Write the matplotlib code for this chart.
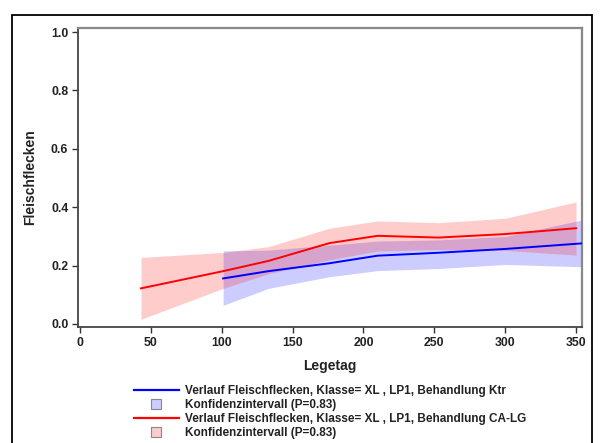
import matplotlib
matplotlib.use("Agg")
import matplotlib.pyplot as plt
from matplotlib.lines import Line2D
from matplotlib.patches import Rectangle

plt.rcParams['font.family'] = ['Liberation Sans', 'DejaVu Sans']
plt.rcParams['font.weight'] = 'bold'

# Data
x_ktr = [101, 133, 176, 210, 253, 300, 354]
y_ktr = [0.156, 0.181, 0.208, 0.234, 0.244, 0.257, 0.276]
up_ktr = [0.250, 0.253, 0.270, 0.284, 0.288, 0.300, 0.356]
lo_ktr = [0.064, 0.122, 0.162, 0.183, 0.190, 0.204, 0.196]

x_ca = [43, 101, 133, 176, 210, 253, 300, 350]
y_ca = [0.122, 0.181, 0.216, 0.277, 0.302, 0.296, 0.308, 0.328]
up_ca = [0.228, 0.245, 0.265, 0.328, 0.353, 0.347, 0.362, 0.418]
lo_ca = [0.016, 0.122, 0.172, 0.220, 0.250, 0.255, 0.252, 0.236]

x_ticks = [0, 50, 100, 150, 200, 250, 300, 350]
y_ticks = [0.0, 0.2, 0.4, 0.6, 0.8, 1.0]

labels = ["Verlauf Fleischflecken, Klasse= XL , LP1, Behandlung Ktr",
          "Konfidenzintervall (P=0.83)",
          "Verlauf Fleischflecken, Klasse= XL , LP1, Behandlung CA-LG",
          "Konfidenzintervall (P=0.83)"]

W, H = 601, 443
fig = plt.figure(figsize=(W / 100, H / 100), dpi=100)
ax = fig.add_axes([78 / W, 1 - 327 / H, (582 - 78) / W, (327 - 28) / H])

ax.fill_between(x_ktr, lo_ktr, up_ktr, color=(0.8, 0.8, 1.0), lw=0, zorder=1)
ax.fill_between(x_ca, lo_ca, up_ca, color='#ff0000', alpha=0.2, lw=0, zorder=2)
ax.plot(x_ktr, y_ktr, color='#0000ff', lw=1.4, zorder=3)
ax.plot(x_ca, y_ca, color='#ff0000', lw=1.4, zorder=4)

ax.set_xlim(-1.4, 354.2)
ax.set_ylim(-0.0103, 1.0137)
ax.set_xticks(x_ticks)
ax.set_yticks(y_ticks)
ax.set_xticklabels([str(v) for v in x_ticks])
ax.set_yticklabels([f"{v:.1f}" for v in y_ticks])
ax.tick_params(axis='both', direction='out', length=4, width=1.0, color='#333333',
               labelsize=8.8, pad=3, labelcolor='#222222')
for side in ['left', 'bottom']:
    ax.spines[side].set_color('#444444')
    ax.spines[side].set_linewidth(1.3)
for side in ['top', 'right']:
    ax.spines[side].set_color('#888888')
    ax.spines[side].set_linewidth(1.6)

fig.text(330 / W, 1 - 366 / H, "Legetag", ha='center', va='center',
         fontsize=10, fontweight='bold', color='#222222')
fig.text(30 / W, 1 - 177 / H, "Fleischflecken", ha='center', va='center',
         rotation=90, fontsize=10, fontweight='bold', color='#222222')

handles = [
    Line2D([], [], color='#0000ff', lw=1.6),
    Line2D([], [], ls='none', marker='s', markersize=6.5, markerfacecolor=(0.8, 0.8, 1.0),
           markeredgecolor='#888888', markeredgewidth=0.8),
    Line2D([], [], color='#ff0000', lw=1.6),
    Line2D([], [], ls='none', marker='s', markersize=6.5, markerfacecolor=(1.0, 0.8, 0.8),
           markeredgecolor='#888888', markeredgewidth=0.8),
]
fs = 8.5
leg = fig.legend(handles, labels, loc='upper left',
                 bbox_to_anchor=(134 / W, 1 - 385 / H), frameon=False,
                 fontsize=fs, handlelength=3.8, handletextpad=0.5,
                 labelspacing=0.165, borderpad=0, borderaxespad=0)
for t in leg.get_texts():
    t.set_fontweight('bold')
    t.set_color('#222222')

fig.patches.append(Rectangle((12 / W, -0.05), 580 / W, 1 - 15 / H + 0.05,
                             transform=fig.transFigure, fill=False,
                             edgecolor='black', lw=1.3))

fig.savefig("out.png", dpi=100)
